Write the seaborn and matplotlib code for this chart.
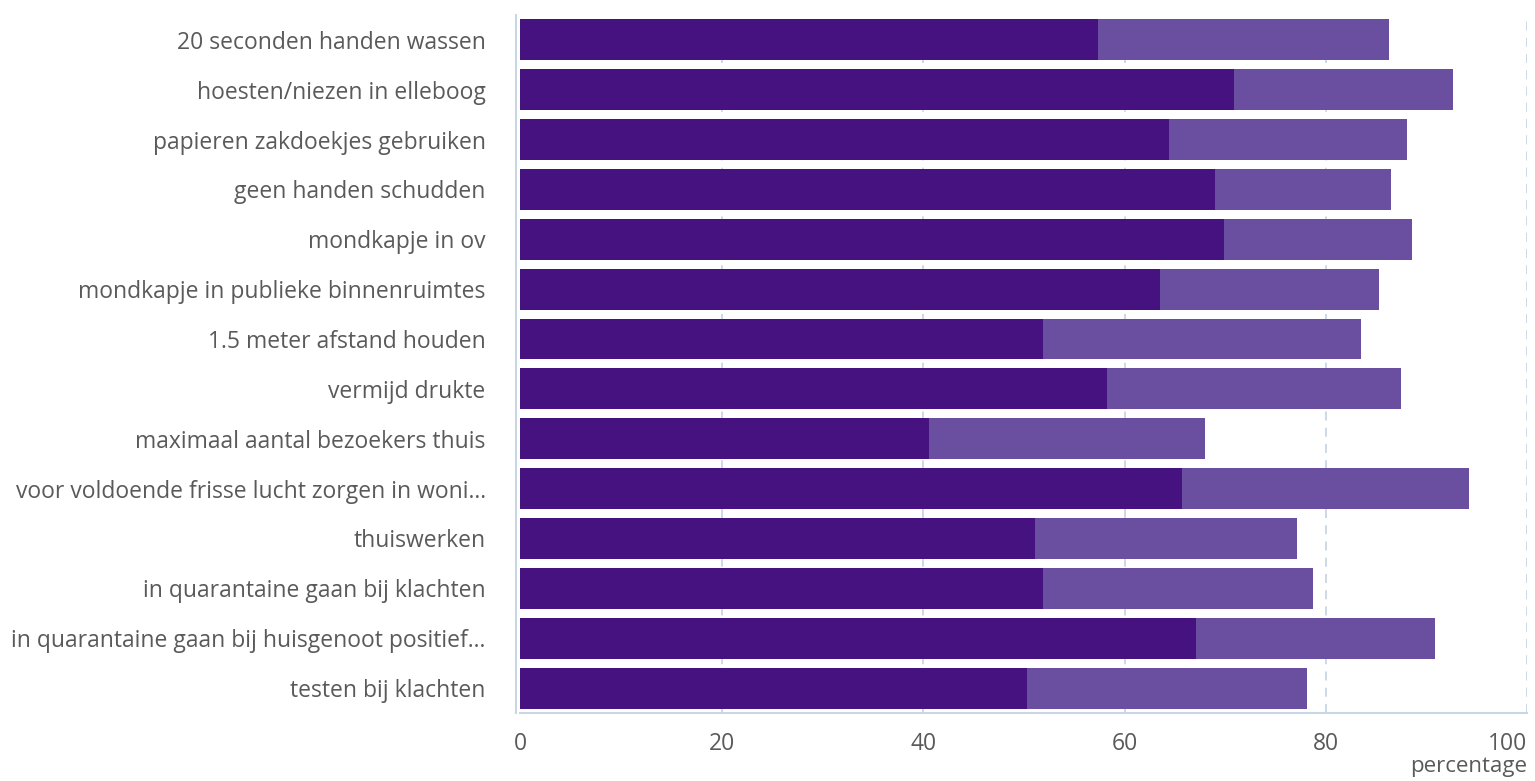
import matplotlib.pyplot as plt
import numpy as np
import seaborn as sns

labels = ['20 seconden handen wassen', 'hoesten/niezen in elleboog',
          'papieren zakdoekjes gebruiken', 'geen handen schudden',
          'mondkapje in ov', 'mondkapje in publieke binnenruimtes',
          '1.5 meter afstand houden', 'vermijd drukte',
          'maximaal aantal bezoekers thuis',
          'voor voldoende frisse lucht zorgen in woni...',
          'thuiswerken', 'in quarantaine gaan bij klachten',
          'in quarantaine gaan bij huisgenoot positief...',
          'testen bij klachten']
dark = [57.4, 70.9, 64.4, 69.0, 69.9, 63.5, 51.9, 58.3, 40.6, 65.7, 51.1, 51.9, 67.1, 50.3]
light = [28.9, 21.7, 23.7, 17.5, 18.6, 21.8, 31.6, 29.2, 27.4, 28.5, 26.0, 26.8, 23.7, 27.8]
total = [d + l for d, l in zip(dark, light)]

sns.set_style('white')
plt.rcParams['font.family'] = ['Open Sans', 'DejaVu Sans']
txt = '#5a5a5a'
edge = '#c9d6e6'

fig = plt.figure(figsize=(15.35, 7.81), dpi=100)
ax = fig.add_axes([0.339, 0.087, 0.656, 0.894])

sns.barplot(x=total, y=labels, orient='h', color='#6a4fa0', saturation=1,
            width=0.82, linewidth=0, ax=ax, zorder=3)
sns.barplot(x=dark, y=labels, orient='h', color='#45127f', saturation=1,
            width=0.82, linewidth=0, ax=ax, zorder=3)

ax.set_xlim(0, 100)
ax.set_ylim(13.5, -0.5)
ax.set_xticks([0, 20, 40, 60, 80, 100])
for v in [20, 40, 60, 80, 100]:
    ax.axvline(v, color=edge, lw=1.3, ls=(0, (5, 4)), zorder=1)

ax.tick_params(axis='y', which='major', length=0, labelsize=16.5, labelcolor=txt, pad=22)
ax.tick_params(axis='x', length=0, labelsize=16.5, labelcolor=txt, pad=14)
ax.get_xticklabels()[-1].set_ha('right')
ax.set_yticks(np.arange(-0.5, 14, 1), minor=True)
ax.tick_params(axis='y', which='minor', length=5, color=edge, width=1.3)

for s in ['top', 'right']:
    ax.spines[s].set_visible(False)
for s in ['left', 'bottom']:
    ax.spines[s].set_color(edge)
    ax.spines[s].set_linewidth(1.5)
ax.spines['left'].set_position(('outward', 3))

ax.set_ylabel('')
ax.set_xlabel('')
ax.text(1.0, -0.061, 'percentage', transform=ax.transAxes, ha='right', va='top',
        fontsize=16, color=txt)

fig.savefig('out.png', dpi=100)
